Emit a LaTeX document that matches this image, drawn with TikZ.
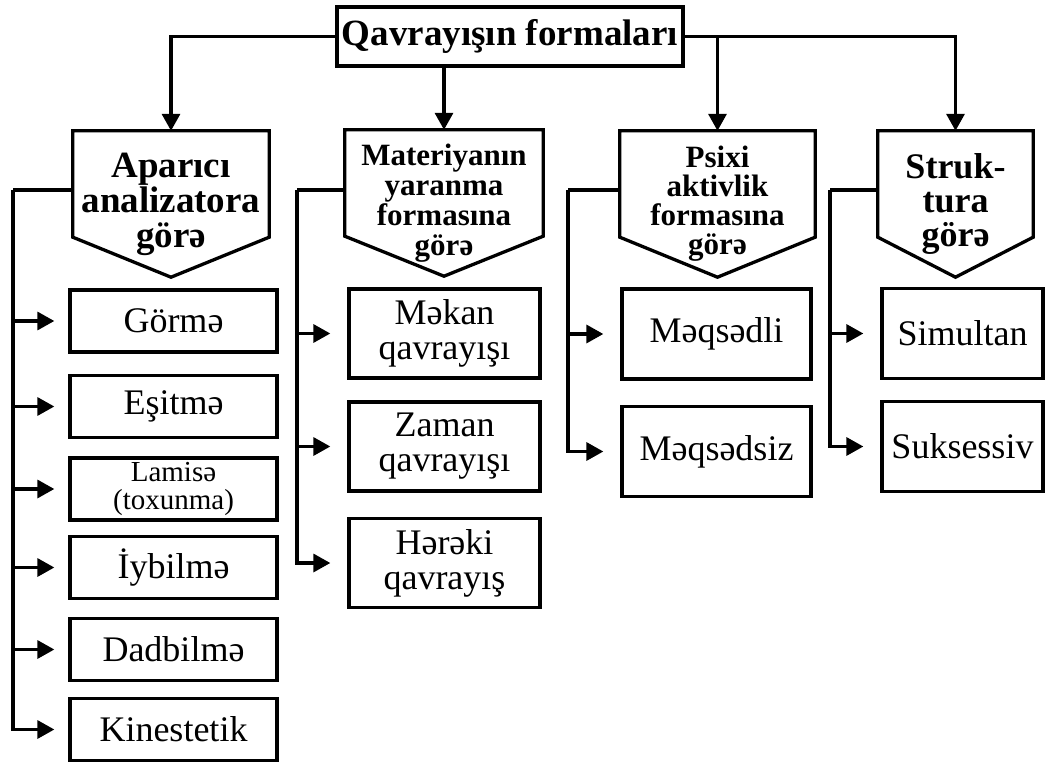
\documentclass[tikz,border=0pt]{standalone}
\usepackage{fontspec}
\setmainfont{Liberation Serif}
\usetikzlibrary{arrows.meta}

\begin{document}
\begin{tikzpicture}[x=1pt, y=-1pt,
  topbox/.style={draw, line width=3.3pt, minimum width=346pt, minimum height=59pt,
    inner sep=0pt, font=\fontsize{37}{37}\selectfont\bfseries},
  headbox/.style={minimum height=146pt, inner sep=0pt, align=center,
    font=\fontsize{#1}{#1}\selectfont\bfseries},
  itembox/.style={draw, line width=3.3pt, inner sep=0pt, align=center,
    font=\fontsize{36}{35}\selectfont},
  link/.style={line width=3.3pt},
  arr/.style={link, -{Triangle[length=17pt, width=18pt]}},
  sidearr/.style={arr, shorten >=17pt}
]
  \useasboundingbox (0,0) rectangle (1045,762);

  % top and the four groups
  \node[topbox] (top) at (510,36.5) {Qavrayışın formaları};
  \node[headbox=37, minimum width=196pt,
    font=\fontsize{37}{35}\selectfont\bfseries] (h1) at (171,204) {Aparıcı\\analizatora\\görə};
  \node[headbox=31, minimum width=198pt,
    font=\fontsize{31}{30}\selectfont\bfseries] (h2) at (444,203) {Materiyanın\\yaranma\\formasına\\görə};
  \node[headbox=31, minimum width=195pt,
    font=\fontsize{31}{29}\selectfont\bfseries] (h3) at (717.5,204) {Psixi\\aktivlik\\formasına\\görə};
  \node[headbox=36, minimum width=155pt,
    font=\fontsize{36}{34}\selectfont\bfseries] (h4) at (955.5,204) {Struk-\\tura\\görə};
  \foreach \h in {h1,h2,h3,h4}
    \draw[link] (\h.north west) -- (\h.north east) -- ([yshift=40pt]\h.south east)
      -- (\h.south) -- ([yshift=40pt]\h.south west) -- cycle;

  \draw[arr] (top.west) -| (h1.north);
  \draw[arr] (top.south -| h2.north) -- (h2.north);
  \draw[arr] (top.east) -| (h3.north);
  \draw[arr] (top.east) -| (h4.north);

  % first column
  \node[itembox, minimum width=207pt, minimum height=62pt] (gorme) at (173.5,321) {Görmə};
  \node[itembox, minimum width=207pt, minimum height=62pt] (esitme) at (173.5,406.5) {Eşitmə};
  \node[itembox, minimum width=207pt, minimum height=62pt,
    font=\fontsize{29}{28}\selectfont] (lamise) at (173.5,489) {Lamisə\\(toxunma)};
  \node[itembox, minimum width=207pt, minimum height=62pt] (iybilme) at (173.5,567.5) {İybilmə};
  \node[itembox, minimum width=207pt, minimum height=62pt] (dadbilme) at (173.5,649.5) {Dadbilmə};
  \node[itembox, minimum width=207pt, minimum height=62pt] (kines) at (173.5,729.5) {Kinestetik};

  % second column
  \node[itembox, minimum width=191pt, minimum height=89pt] (mekan) at (444.5,333.5) {Məkan\\qavrayışı};
  \node[itembox, minimum width=191pt, minimum height=89pt] (zaman) at (444.5,446.5) {Zaman\\qavrayışı};
  \node[itembox, minimum width=191pt, minimum height=89pt] (hereki) at (444.5,563) {Hərəki\\qavrayış};

  % third and fourth columns
  \node[itembox, minimum width=189pt, minimum height=90pt] (meqsedli) at (716.5,334) {Məqsədli};
  \node[itembox, minimum width=189pt, minimum height=90pt] (meqsedsiz) at (716.5,451.5) {Məqsədsiz};
  \node[itembox, minimum width=161pt, minimum height=90pt] (simultan) at (962.5,333.5) {Simultan};
  \node[itembox, minimum width=161pt, minimum height=90pt] (suksessiv) at (962.5,446.5) {Suksessiv};

  % buses
  \coordinate (bus1) at (13,190);
  \coordinate (bus2) at (297,190);
  \coordinate (bus3) at (568,190);
  \coordinate (bus4) at (830,190);
  \draw[link] (h1.west |- bus1) -- (bus1);
  \draw[link] (h2.west |- bus2) -- (bus2);
  \draw[link] (h3.west |- bus3) -- (bus3);
  \draw[link] (h4.west |- bus4) -- (bus4);
  \foreach \n in {gorme,esitme,lamise,iybilme,dadbilme,kines}
    \draw[sidearr, shorten >=14pt] (bus1) |- (\n.west);
  \foreach \n in {mekan,zaman,hereki}
    \draw[sidearr] (bus2) |- (\n.west);
  \foreach \n in {meqsedli,meqsedsiz}
    \draw[sidearr] (bus3) |- (\n.west);
  \foreach \n in {simultan,suksessiv}
    \draw[sidearr] (bus4) |- (\n.west);
\end{tikzpicture}
\end{document}
